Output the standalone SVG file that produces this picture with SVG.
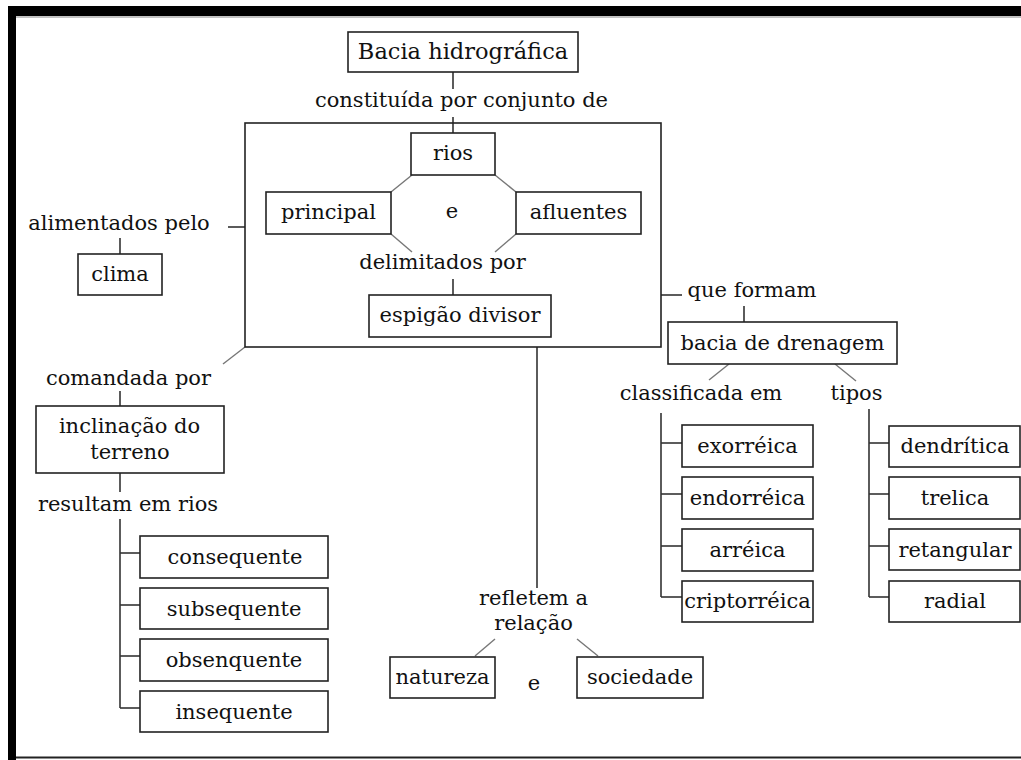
<svg xmlns="http://www.w3.org/2000/svg" width="1021" height="760" viewBox="0 0 1021 760">
<style>
.box{fill:#fff;stroke:#222;stroke-width:1.6}
.t{font-family:"DejaVu Serif","Liberation Serif",serif;font-size:21px;fill:#111;text-anchor:middle}
.c line{stroke:#333;stroke-width:1.6}
.c line.d{stroke:#777;stroke-width:1.4}
</style>
<rect x="0" y="0" width="1021" height="760" fill="#fff"/>
<g id="frame">
<rect x="8" y="6" width="1013" height="10" fill="#000"/>
<rect x="8" y="6" width="8" height="754" fill="#000"/>
<line x1="16" y1="17" x2="1021" y2="17" stroke="#888" stroke-width="1"/>
<line x1="16" y1="757.5" x2="1021" y2="757.5" stroke="#222" stroke-width="2"/>
</g>
<g class="c" id="connectors">
<line x1="453" y1="72" x2="453" y2="89"/>
<line x1="453" y1="117" x2="453" y2="133"/>
<line class="d" x1="412" y1="175" x2="391" y2="192"/>
<line class="d" x1="495" y1="175" x2="516" y2="192"/>
<line class="d" x1="391" y1="234" x2="412" y2="252"/>
<line class="d" x1="516" y1="234" x2="495" y2="252"/>
<line x1="453" y1="279" x2="453" y2="295"/>
<line x1="228" y1="227" x2="245" y2="227"/>
<line x1="120" y1="238" x2="120" y2="254"/>
<line class="d" x1="245" y1="347" x2="223" y2="364"/>
<line x1="120" y1="391" x2="120" y2="406"/>
<line x1="120" y1="473" x2="120" y2="492"/>
<line x1="120" y1="519" x2="120" y2="708"/>
<line x1="120" y1="553" x2="140" y2="553"/>
<line x1="120" y1="605" x2="140" y2="605"/>
<line x1="120" y1="656" x2="140" y2="656"/>
<line x1="120" y1="708" x2="140" y2="708"/>
<line x1="537" y1="347" x2="537" y2="588"/>
<line class="d" x1="495" y1="639" x2="475" y2="656"/>
<line class="d" x1="577" y1="639" x2="598" y2="656"/>
<line x1="661" y1="295" x2="682" y2="295"/>
<line x1="744" y1="306" x2="744" y2="322"/>
<line class="d" x1="729" y1="364" x2="709" y2="380"/>
<line class="d" x1="835" y1="364" x2="856" y2="381"/>
<line x1="661" y1="413" x2="661" y2="597"/>
<line x1="661" y1="443" x2="682" y2="443"/>
<line x1="661" y1="494" x2="682" y2="494"/>
<line x1="661" y1="546" x2="682" y2="546"/>
<line x1="661" y1="597" x2="682" y2="597"/>
<line x1="869" y1="409" x2="869" y2="597"/>
<line x1="869" y1="443" x2="889" y2="443"/>
<line x1="869" y1="494" x2="889" y2="494"/>
<line x1="869" y1="546" x2="889" y2="546"/>
<line x1="869" y1="597" x2="889" y2="597"/>
</g>
<g id="bacia"><rect class="box" x="348" y="32" width="230" height="40"/><text class="t" x="463" y="59" style="font-size:22.5px">Bacia hidrográfica</text></g>
<g id="l-constituida"><text class="t" x="461.5" y="107">constituída por conjunto de</text></g>
<g id="conjunto"><rect x="245" y="123" width="416" height="224" fill="none" stroke="#222" stroke-width="1.6"/></g>
<g id="rios"><rect class="box" x="411" y="133" width="84" height="42"/><text class="t" x="453" y="160">rios</text></g>
<g id="principal"><rect class="box" x="266" y="192" width="125" height="42"/><text class="t" x="328.5" y="219">principal</text></g>
<g id="e1"><text class="t" x="452" y="218">e</text></g>
<g id="afluentes"><rect class="box" x="516" y="192" width="125" height="42"/><text class="t" x="578.5" y="219">afluentes</text></g>
<g id="l-delimitados"><text class="t" x="442.5" y="269">delimitados por</text></g>
<g id="espigao"><rect class="box" x="369" y="295" width="182" height="42"/><text class="t" x="460" y="322">espigão divisor</text></g>
<g id="l-alimentados"><text class="t" x="119" y="230">alimentados pelo</text></g>
<g id="clima"><rect class="box" x="78" y="254" width="84" height="41"/><text class="t" x="120" y="281">clima</text></g>
<g id="l-comandada"><text class="t" x="128.5" y="385">comandada por</text></g>
<g id="inclinacao"><rect class="box" x="36" y="406" width="188" height="67"/><text class="t" x="129.5" y="433">inclinação do</text><text class="t" x="130" y="459">terreno</text></g>
<g id="l-resultam"><text class="t" x="128" y="511">resultam em rios</text></g>
<g id="consequente"><rect class="box" x="140" y="536" width="188" height="42"/><text class="t" x="235" y="564">consequente</text></g>
<g id="subsequente"><rect class="box" x="140" y="588" width="188" height="41"/><text class="t" x="234" y="616">subsequente</text></g>
<g id="obsenquente"><rect class="box" x="140" y="639" width="188" height="42"/><text class="t" x="234" y="667">obsenquente</text></g>
<g id="insequente"><rect class="box" x="140" y="691" width="188" height="41"/><text class="t" x="234" y="719">insequente</text></g>
<g id="l-refletem"><text class="t" x="533.5" y="605">refletem a</text><text class="t" x="533.5" y="630">relação</text></g>
<g id="natureza"><rect class="box" x="390" y="657" width="105" height="41"/><text class="t" x="442.5" y="684">natureza</text></g>
<g id="e2"><text class="t" x="534" y="690">e</text></g>
<g id="sociedade"><rect class="box" x="577" y="657" width="126" height="41"/><text class="t" x="640" y="684">sociedade</text></g>
<g id="l-queformam"><text class="t" x="752" y="297">que formam</text></g>
<g id="drenagem"><rect class="box" x="668" y="322" width="229" height="42"/><text class="t" x="782.5" y="350">bacia de drenagem</text></g>
<g id="l-classificada"><text class="t" x="701" y="400">classificada em</text></g>
<g id="l-tipos"><text class="t" x="856.5" y="400">tipos</text></g>
<g id="exorreica"><rect class="box" x="682" y="425" width="131" height="42"/><text class="t" x="747.5" y="453">exorréica</text></g>
<g id="endorreica"><rect class="box" x="682" y="477" width="131" height="42"/><text class="t" x="747.5" y="505">endorréica</text></g>
<g id="arreica"><rect class="box" x="682" y="529" width="131" height="42"/><text class="t" x="747.5" y="557">arréica</text></g>
<g id="criptorreica"><rect class="box" x="682" y="581" width="131" height="41"/><text class="t" x="747.5" y="608">criptorréica</text></g>
<g id="dendritica"><rect class="box" x="889" y="426" width="131" height="41"/><text class="t" x="955" y="453">dendrítica</text></g>
<g id="trelica"><rect class="box" x="889" y="477" width="131" height="42"/><text class="t" x="955" y="505">trelica</text></g>
<g id="retangular"><rect class="box" x="889" y="529" width="131" height="41"/><text class="t" x="955" y="557">retangular</text></g>
<g id="radial"><rect class="box" x="889" y="581" width="131" height="41"/><text class="t" x="955" y="608">radial</text></g>
</svg>
